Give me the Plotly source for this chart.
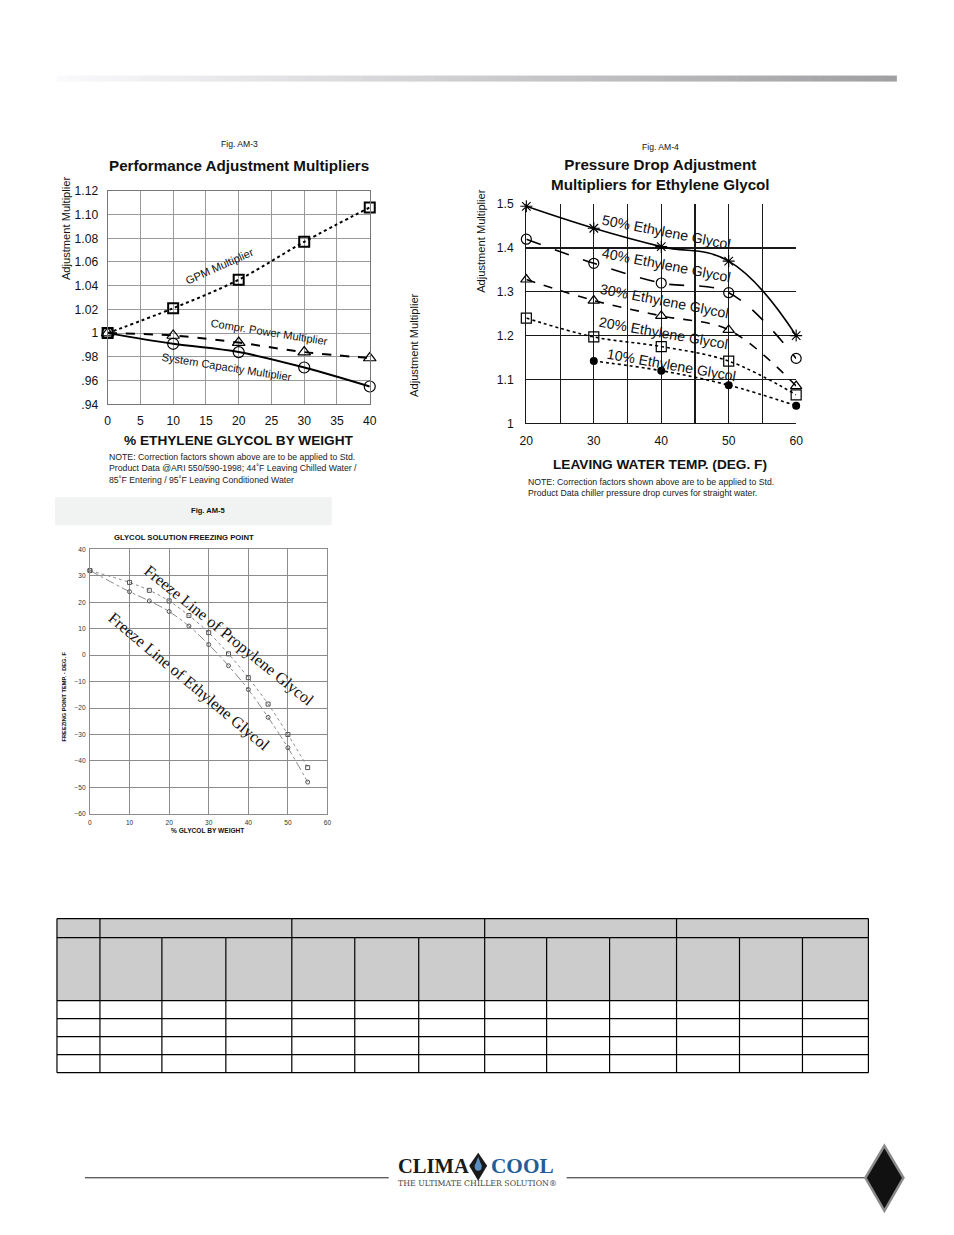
import plotly.graph_objects as go

W, H = 954, 1235
# the capture maps figure pixels to page pixels as page = OFF + S * fig; invert it so that
# the coordinates below can be given in reference page pixels
OFF, SX, SY = 7.0, 0.986, 0.988
FS = 1 / 0.987  # font compensation

# ---------------- DATA ----------------
# Fig. AM-3
am3_x = [0, 10, 20, 30, 40]
am3_gpm = [1.000, 1.021, 1.045, 1.077, 1.106]
am3_power = [1.000, 0.998, 0.992, 0.984, 0.979]
am3_capacity = [1.000, 0.991, 0.984, 0.971, 0.955]
am3_xticks = [0, 5, 10, 15, 20, 25, 30, 35, 40]
am3_yticks = [0.94, 0.96, 0.98, 1.00, 1.02, 1.04, 1.06, 1.08, 1.10, 1.12]
am3_yticktext = [".94", ".96", ".98", "1", "1.02", "1.04", "1.06", "1.08", "1.10", "1.12"]

# Fig. AM-4
am4_x = [20, 30, 40, 50, 60]
am4_50 = [1.495, 1.445, 1.403, 1.370, 1.200]
am4_40 = [1.420, 1.365, 1.320, 1.298, 1.148]
am4_30 = [1.328, 1.280, 1.245, 1.213, 1.085]
am4_20 = [1.240, 1.197, 1.175, 1.142, 1.065]
am4_x10 = [30, 40, 50, 60]
am4_10 = [1.142, 1.120, 1.087, 1.040]
am4_xticks = [20, 25, 30, 35, 40, 45, 50, 55, 60]
am4_xticktext = ["20", "", "30", "", "40", "", "50", "", "60"]
am4_yticks = [1.0, 1.1, 1.2, 1.3, 1.4, 1.5]
am4_yticktext = ["1", "1.1", "1.2", "1.3", "1.4", "1.5"]

# Fig. AM-5
am5_x = [0, 10, 15, 20, 25, 30, 35, 40, 45, 50, 55]
am5_propylene = [32, 27.5, 24.5, 20.5, 15, 8.5, 0.5, -8.5, -18.5, -30, -42.5]
am5_ethylene = [32, 24, 20.5, 16.5, 11, 4, -4, -13, -23.5, -35, -48]
am5_xticks = [0, 10, 20, 30, 40, 50, 60]
am5_yticks = [-60, -50, -40, -30, -20, -10, 0, 10, 20, 30, 40]

# Empty table grid (column / row boundaries)
table_cols = [57, 100, 162, 226, 292, 355, 419, 485, 547, 610, 677, 740, 803, 869]
table_groups = [57, 100, 292, 485, 677, 869]
table_rows = [918, 937, 1000, 1018, 1036, 1054, 1072]


def px(x):
    return ((x - OFF) / SX) / W


def py(y):
    return 1 - ((y - OFF) / SY) / H


def f(s):
    return s * FS


fig = go.Figure()

# ---------------- AM-3 traces ----------------
fig.add_trace(go.Scatter(x=am3_x, y=am3_gpm, mode="lines+markers", line=dict(color="black", dash="dot", width=2, shape="spline"),
                         marker=dict(symbol="square-open", size=10, color="black", line=dict(width=2)),
                         xaxis="x", yaxis="y", cliponaxis=False, showlegend=False, name="GPM Multiplier"))
fig.add_trace(go.Scatter(x=am3_x, y=am3_power, mode="lines+markers", line=dict(color="black", dash="dash", width=2, shape="spline"),
                         marker=dict(symbol="triangle-up-open", size=11, color="black", line=dict(width=1.2)),
                         xaxis="x", yaxis="y", cliponaxis=False, showlegend=False, name="Compr. Power Multiplier"))
fig.add_trace(go.Scatter(x=am3_x, y=am3_capacity, mode="lines+markers", line=dict(color="black", width=2, shape="spline"),
                         marker=dict(symbol="circle-open", size=11, color="black", line=dict(width=1.2)),
                         xaxis="x", yaxis="y", cliponaxis=False, showlegend=False, name="System Capacity Multiplier"))

# ---------------- AM-4 traces ----------------
fig.add_trace(go.Scatter(x=am4_x, y=am4_50, mode="lines+markers", line=dict(color="black", width=1.6, shape="spline", smoothing=1.2),
                         marker=dict(symbol="asterisk-open", size=10, color="black", line=dict(width=1.1, color="black")),
                         xaxis="x2", yaxis="y3", cliponaxis=False, showlegend=False, name="50%"))
fig.add_trace(go.Scatter(x=am4_x, y=am4_40, mode="lines+markers", line=dict(color="black", dash="longdash", width=1.6, shape="spline"),
                         marker=dict(symbol="circle-open", size=10, color="black", line=dict(width=1.2)),
                         xaxis="x2", yaxis="y3", cliponaxis=False, showlegend=False, name="40%"))
fig.add_trace(go.Scatter(x=am4_x, y=am4_30, mode="lines+markers", line=dict(color="black", dash="dash", width=1.6, shape="spline"),
                         marker=dict(symbol="triangle-up-open", size=10, color="black", line=dict(width=1.2)),
                         xaxis="x2", yaxis="y3", cliponaxis=False, showlegend=False, name="30%"))
fig.add_trace(go.Scatter(x=am4_x, y=am4_20, mode="lines+markers", line=dict(color="black", dash="dot", width=1.6, shape="spline"),
                         marker=dict(symbol="square-open", size=10, color="black", line=dict(width=1.2)),
                         xaxis="x2", yaxis="y3", cliponaxis=False, showlegend=False, name="20%"))
fig.add_trace(go.Scatter(x=am4_x10, y=am4_10, mode="lines+markers", line=dict(color="black", dash="dot", width=1.6, shape="spline"),
                         marker=dict(symbol="circle", size=8, color="black"),
                         xaxis="x2", yaxis="y3", cliponaxis=False, showlegend=False, name="10%"))

# ---------------- AM-5 traces ----------------
fig.add_trace(go.Scatter(x=am5_x, y=am5_propylene, mode="lines+markers", line=dict(color="#8a8a8a", dash="dot", width=1, shape="spline"),
                         marker=dict(symbol="square-open", size=4, color="#555", line=dict(width=1)),
                         xaxis="x3", yaxis="y4", cliponaxis=False, showlegend=False, name="Propylene"))
fig.add_trace(go.Scatter(x=am5_x, y=am5_ethylene, mode="lines+markers", line=dict(color="#8a8a8a", dash="dashdot", width=1, shape="spline"),
                         marker=dict(symbol="circle-open", size=4, color="#555", line=dict(width=1)),
                         xaxis="x3", yaxis="y4", cliponaxis=False, showlegend=False, name="Ethylene"))

tickfont = dict(family="Liberation Sans, Arial", size=f(12), color="#111")
smallfont = dict(family="Liberation Sans, Arial", size=f(6.5), color="#333")

layout = dict(
    width=W, height=H, margin=dict(l=0, r=0, t=0, b=0),
    paper_bgcolor="white", plot_bgcolor="white", showlegend=False,
    font=dict(family="Liberation Sans, Arial", color="#111"),
    # AM-3
    xaxis=dict(domain=[px(107.7), px(370)], anchor="y", range=[0, 40], tickvals=am3_xticks,
               showgrid=True, gridcolor="#9a9a9a", gridwidth=1, showline=True, mirror=True, linecolor="#777",
               zeroline=False, tickfont=tickfont, ticks="", ticklabelstandoff=5),
    yaxis=dict(domain=[py(404), py(190.7)], anchor="x", range=[0.94, 1.12], tickvals=am3_yticks, ticktext=am3_yticktext,
               showgrid=True, gridcolor="#9a9a9a", gridwidth=1, showline=True, mirror=True, linecolor="#777",
               zeroline=False, tickfont=tickfont, ticks="", ticklabelstandoff=6),
    yaxis2=dict(overlaying="y", side="right", anchor="x", range=[0.94, 1.12], tickvals=am3_yticks, ticktext=am3_yticktext,
                showgrid=False, zeroline=False, showline=False, tickfont=tickfont, ticks="", ticklabelstandoff=7),
    # AM-4
    xaxis2=dict(domain=[px(526.7), px(796.7)], anchor="y3", range=[20, 60], tickvals=am4_xticks, ticktext=am4_xticktext,
                showgrid=True, gridcolor="#1a1a1a", gridwidth=1.1, showline=True, linecolor="#1a1a1a", linewidth=1.2,
                zeroline=False, tickfont=tickfont, ticks="", ticklabelstandoff=6),
    yaxis3=dict(domain=[py(423), py(204)], anchor="x2", range=[1.0, 1.5], tickvals=am4_yticks, ticktext=am4_yticktext,
                showgrid=True, gridcolor="#1a1a1a", gridwidth=1.1, showline=True, linecolor="#1a1a1a", linewidth=1.2,
                zeroline=False, tickfont=tickfont, ticks="", ticklabelstandoff=9),
    # AM-5
    xaxis3=dict(domain=[px(90), px(327.7)], anchor="y4", range=[0, 60], tickvals=am5_xticks,
                showgrid=True, gridcolor="#8c8c8c", gridwidth=1, showline=True, mirror=True, linecolor="#8c8c8c",
                zeroline=False, tickfont=smallfont, ticks="", ticklabelstandoff=2),
    yaxis4=dict(domain=[py(813.3), py(549)], anchor="x3", range=[-60, 40], tickvals=am5_yticks,
                showgrid=True, gridcolor="#8c8c8c", gridwidth=1, showline=True, mirror=True, linecolor="#8c8c8c",
                zeroline=False, tickfont=smallfont, ticks="", ticklabelstandoff=2),
)
fig.update_layout(**layout)

ann = []


def text(x, y, t, size, bold=False, angle=0, xanchor="center", family="Liberation Sans, Arial", color="#111", align="center"):
    ann.append(dict(x=px(x), y=py(y), xref="paper", yref="paper", text=("<b>%s</b>" % t) if bold else t,
                    showarrow=False, textangle=angle, xanchor=xanchor, yanchor="middle", align=align,
                    font=dict(size=f(size), family=family, color=color)))


# AM-3 texts
text(240, 144, "Fig. AM-3", 8.5)
text(239, 165, "Performance Adjustment Multipliers", 15, bold=True)
text(66, 228, "Adjustment Multiplier", 11, angle=-90)
text(415, 345, "Adjustment Multiplier", 11, angle=-90)
text(239, 440, "% ETHYLENE GLYCOL BY WEIGHT", 13.5, bold=True)
text(107, 468, "NOTE: Correction factors shown above are to be applied to Std.<br>Product Data @ARI 550/590-1998; 44˚F Leaving Chilled Water /<br>85˚F Entering / 95˚F Leaving Conditioned Water",
     8.6, xanchor="left", align="left", color="#222")
text(220, 266, "GPM Multiplier", 11, angle=-24)
text(269, 332, "Compr. Power Multiplier", 11, angle=9)
text(227, 367, "System Capacity Multiplier", 11, angle=9)

# AM-4 texts
text(661, 147, "Fig. AM-4", 8.5)
text(661, 174, "Pressure Drop Adjustment<br>Multipliers for Ethylene Glycol", 15, bold=True)
text(481, 241, "Adjustment Multiplier", 11, angle=-90)
text(660, 464, "LEAVING WATER TEMP. (DEG. F)", 13.5, bold=True)
text(526, 487, "NOTE: Correction factors shown above are to be applied to Std.<br>Product Data chiller pressure drop curves for straight water.",
     8.6, xanchor="left", align="left", color="#222")
text(667, 232, "50% Ethylene Glycol", 14, angle=11)
text(667, 265, "40% Ethylene Glycol", 14, angle=11)
text(665, 301, "30% Ethylene Glycol", 14, angle=11)
text(664, 333, "20% Ethylene Glycol", 14, angle=10)
text(672, 365, "10% Ethylene Glycol", 14, angle=10)

# AM-5 texts
text(208, 510, "Fig. AM-5", 7.5, bold=True)
text(184, 537, "GLYCOL SOLUTION FREEZING POINT", 7.6, bold=True)
text(65, 696, "FREEZING POINT TEMP. - DEG. F", 5.6, bold=True, angle=-90)
text(208, 830, "% GLYCOL BY WEIGHT", 6.5, bold=True)
text(229, 636, "Freeze Line of Propylene Glycol", 16, angle=39, family="Liberation Serif, Times New Roman")
text(189, 682, "Freeze Line of Ethylene Glycol", 16, angle=40, family="Liberation Serif, Times New Roman")

# Footer logo
text(396, 1165, "CLIMA", 20.3, bold=True, xanchor="left", family="Liberation Serif, Times New Roman", color="#1a1a1a")
text(489, 1165, "COOL", 21, bold=True, xanchor="left", family="Liberation Serif, Times New Roman", color="#1f5e99")
text(396, 1183, "THE ULTIMATE CHILLER SOLUTION®", 7.7, xanchor="left", family="DejaVu Serif", color="#444")

fig.update_layout(annotations=ann)

shapes = []
# Header gradient bar
n = 80
x0, x1 = 57, 897
for i in range(n):
    t = i / (n - 1)
    c = int(250 - t * (250 - 160))
    shapes.append(dict(type="rect", xref="paper", yref="paper",
                       x0=px(x0 + (x1 - x0) * i / n), x1=px(x0 + (x1 - x0) * (i + 1) / n + 0.5),
                       y0=py(81.5), y1=py(75.5), fillcolor="rgb(%d,%d,%d)" % (c, c, min(255, c + 3)), line=dict(width=0), layer="below"))

# Fig. AM-5 caption box
shapes.append(dict(type="rect", xref="paper", yref="paper", x0=px(55), x1=px(332), y0=py(525), y1=py(497),
                   fillcolor="#f1f2f2", line=dict(width=0), layer="below"))

# Table: header fill
shapes.append(dict(type="rect", xref="paper", yref="paper", x0=px(table_cols[0]), x1=px(table_cols[-1]),
                   y0=py(table_rows[2]), y1=py(table_rows[0]), fillcolor="#cccccc", line=dict(width=0), layer="below"))
# Table horizontal lines
for r in table_rows:
    shapes.append(dict(type="line", xref="paper", yref="paper", x0=px(table_cols[0]), x1=px(table_cols[-1]),
                       y0=py(r), y1=py(r), line=dict(color="black", width=1.2)))
# Table vertical lines (sub columns from second header row down)
for c in table_cols:
    top = table_rows[0] if c in table_groups else table_rows[1]
    shapes.append(dict(type="line", xref="paper", yref="paper", x0=px(c), x1=px(c),
                       y0=py(table_rows[-1]), y1=py(top), line=dict(color="black", width=1.2)))

# Footer lines
shapes.append(dict(type="line", xref="paper", yref="paper", x0=px(85), x1=px(389), y0=py(1177), y1=py(1177), line=dict(color="#222", width=1)))
shapes.append(dict(type="line", xref="paper", yref="paper", x0=px(567), x1=px(866), y0=py(1177), y1=py(1177), line=dict(color="#222", width=1)))


def path(points):
    return "M " + " L ".join("%f,%f" % (px(a), py(b)) for a, b in points) + " Z"


# small logo diamond with drop
shapes.append(dict(type="path", xref="paper", yref="paper", path=path([(478.5, 1152), (487.5, 1165), (478.5, 1180), (469.5, 1165)]),
                   fillcolor="#1a1a1a", line=dict(width=0)))
shapes.append(dict(type="circle", xref="paper", yref="paper", x0=px(475), x1=px(482), y0=py(1170), y1=py(1162),
                   fillcolor="#5a8fc4", line=dict(width=0)))
shapes.append(dict(type="path", xref="paper", yref="paper", path=path([(478.5, 1156), (481.8, 1165), (475.2, 1165)]),
                   fillcolor="#5a8fc4", line=dict(width=0)))
# big page diamond
shapes.append(dict(type="path", xref="paper", yref="paper", path=path([(885, 1145), (904, 1177), (885, 1210), (866, 1177)]),
                   fillcolor="#111", line=dict(color="#8a8a8a", width=2.5)))

fig.update_layout(shapes=shapes)

fig.write_html("out.html", config={"displayModeBar": False, "staticPlot": True},
               post_script="document.body.style.margin='0';document.body.style.padding='0';"
                           "document.documentElement.style.overflow='hidden';document.body.style.overflow='hidden';")
